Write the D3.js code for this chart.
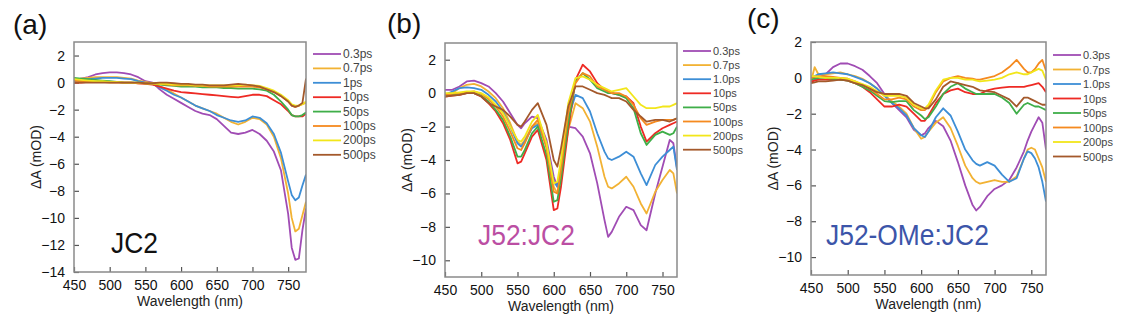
<!DOCTYPE html>
<html>
<head>
<meta charset="utf-8">
<script src="https://cdn.jsdelivr.net/npm/d3@7/dist/d3.min.js"></script>
<style>
  body { margin: 0; background: #fff; }
  svg { display: block; font-family: "Liberation Sans", Arial, sans-serif; }
</style>
</head>
<body>
<div id="chart-area"></div>
<script>
// delay labels and colours, shared by the three panels
var delaysA = ["0.3ps", "0.7ps", "1ps", "10ps", "50ps", "100ps", "200ps", "500ps"];
var delaysBC = ["0.3ps", "0.7ps", "1.0ps", "10ps", "50ps", "100ps", "200ps", "500ps"];
var colors = ["#a04cb4", "#f2b233", "#3d8ed6", "#ee2a24", "#3fae49", "#f58a1f", "#f2e61a", "#a4592b"];

// (a) JC2
var nmA = [450,460,470,480,490,500,510,520,530,540,550,560,570,580,590,600,610,620,630,640,650,660,670,680,690,700,710,720,730,740,750,755,760,765,770,775];
var a03  = [0.2,0.3,0.4,0.6,0.7,0.75,0.75,0.7,0.6,0.4,0.1,0,-0.5,-0.9,-1.2,-1.5,-1.8,-2.1,-2.3,-2.4,-2.7,-3.2,-3.7,-3.8,-3.7,-3.5,-3.8,-4.3,-5.1,-6.5,-9.7,-12.2,-13.1,-13.0,-10.9,-9.3];
var a07  = [0.2,0.3,0.35,0.4,0.4,0.4,0.4,0.35,0.3,0.15,0.05,-0.05,-0.3,-0.5,-0.8,-1.1,-1.4,-1.7,-1.9,-2.1,-2.3,-2.6,-2.9,-3.1,-2.9,-2.6,-2.7,-3.1,-4.0,-5.6,-8.2,-10.0,-11.0,-10.8,-9.8,-8.8];
var a1   = [0.1,0.2,0.25,0.3,0.35,0.35,0.35,0.3,0.25,0.1,0,-0.1,-0.35,-0.6,-0.9,-1.1,-1.4,-1.7,-1.9,-2.1,-2.4,-2.6,-2.8,-2.9,-2.8,-2.5,-2.6,-3.0,-3.8,-5.2,-7.3,-8.3,-8.7,-8.5,-7.6,-6.8];
var a10  = [0,0,0.05,0.05,0.05,0.05,0.05,0,0,-0.05,-0.1,-0.15,-0.3,-0.45,-0.6,-0.7,-0.75,-0.8,-0.85,-0.9,-0.95,-1.0,-1.05,-1.1,-1.0,-0.9,-0.9,-1.0,-1.3,-1.6,-2.1,-2.4,-2.5,-2.5,-2.5,-2.3];
var a50  = [0.35,0.3,0.25,0.2,0.15,0.1,0.05,0,0,0,-0.05,-0.1,-0.15,-0.2,-0.25,-0.3,-0.3,-0.3,-0.35,-0.35,-0.35,-0.4,-0.4,-0.45,-0.45,-0.45,-0.5,-0.6,-0.9,-1.4,-2.0,-2.4,-2.5,-2.5,-2.4,-2.2];
var a100 = [0.15,0.1,0.1,0.05,0.05,0,0,0,0,-0.05,-0.05,-0.1,-0.1,-0.15,-0.2,-0.2,-0.2,-0.25,-0.25,-0.3,-0.3,-0.3,-0.3,-0.3,-0.3,-0.3,-0.35,-0.5,-0.7,-1.0,-1.4,-1.7,-1.8,-1.7,-1.6,-1.5];
var a200 = [0.25,0.2,0.15,0.1,0.1,0.05,0.05,0,0,0,-0.05,-0.05,-0.1,-0.1,-0.15,-0.15,-0.15,-0.2,-0.2,-0.2,-0.2,-0.2,-0.2,-0.2,-0.15,-0.2,-0.25,-0.4,-0.6,-0.9,-1.3,-1.6,-1.7,-1.7,-1.6,-1.4];
var a500 = [0,0,0,0,0,0,0,0,0,0,-0.05,-0.05,0,0,-0.05,-0.1,-0.1,-0.15,-0.15,-0.2,-0.2,-0.2,-0.15,-0.1,-0.15,-0.2,-0.3,-0.5,-0.7,-1.0,-1.4,-1.7,-1.8,-1.7,-1.5,0.3];

// (b) J52:JC2
var nmB = [450,460,470,480,490,500,510,520,530,540,550,555,560,570,578,590,600,605,610,620,630,640,650,660,670,675,680,690,700,710,720,728,740,750,760,765,770];
var b03  = [0.2,0.2,0.4,0.7,0.75,0.6,0.4,0,-0.5,-1.2,-1.9,-2.1,-1.8,-1.4,-1.5,-2.8,-5.0,-5.6,-4.6,-2.0,-2.1,-2.6,-3.6,-5.4,-7.6,-8.6,-8.3,-7.4,-6.8,-7.0,-7.9,-8.2,-6.0,-4.4,-2.8,-3.0,-4.5];
var b07  = [-0.2,0,0.3,0.5,0.55,0.4,0.1,-0.3,-0.9,-1.8,-2.9,-3.1,-2.8,-2.0,-1.8,-3.0,-5.6,-6.0,-4.8,-2.2,-0.6,-0.9,-1.7,-3.2,-5.0,-5.6,-5.7,-5.4,-5.0,-5.6,-6.6,-7.2,-5.9,-5.2,-4.6,-4.8,-6.0];
var b1   = [-0.1,0.1,0.3,0.35,0.3,0.2,-0.1,-0.5,-1.1,-2.0,-3.0,-3.2,-2.9,-2.1,-1.9,-3.1,-5.3,-5.6,-4.4,-1.5,-0.1,-0.3,-1.1,-2.4,-3.5,-3.9,-4.0,-3.8,-3.5,-3.8,-4.8,-5.5,-4.3,-3.8,-3.4,-3.2,-4.6];
var b10  = [-0.2,-0.15,-0.1,0,0,-0.2,-0.6,-1.1,-1.8,-2.8,-4.2,-4.1,-3.6,-2.6,-2.2,-4.0,-7.0,-6.9,-5.6,-2.2,0.8,1.7,1.3,0.6,0.2,0.1,0,-0.1,-0.2,-0.6,-2.0,-2.9,-2.4,-2.1,-1.9,-1.8,-1.7];
var b50  = [-0.2,-0.1,-0.05,0,0,-0.15,-0.5,-1.0,-1.6,-2.6,-3.8,-3.8,-3.4,-2.4,-2.0,-3.7,-6.5,-6.4,-5.1,-1.8,0.7,1.2,0.8,0.3,0.1,0,0,-0.1,-0.3,-0.9,-2.4,-3.1,-2.5,-2.3,-2.5,-2.4,-2.0];
var b100 = [-0.1,-0.05,0,0.05,0.1,-0.05,-0.35,-0.8,-1.4,-2.3,-3.3,-3.4,-3.0,-2.0,-1.6,-3.3,-5.9,-6.0,-4.6,-1.2,0.6,1.2,1.0,0.4,0.2,0.1,0,0,-0.2,-0.7,-1.5,-1.9,-1.7,-1.6,-1.6,-1.6,-1.5];
var b200 = [0,0,0.05,0.1,0.1,0,-0.25,-0.7,-1.2,-2.0,-2.8,-2.9,-2.6,-1.7,-1.3,-3.0,-5.4,-5.3,-4.0,-0.6,0.9,1.0,0.8,0.5,0.3,0.2,0.1,0.2,0.3,-0.2,-0.7,-0.9,-0.9,-0.8,-0.8,-0.7,-0.6];
var b500 = [-0.2,-0.15,-0.1,0,0,-0.2,-0.6,-0.8,-1.0,-1.4,-1.9,-2.0,-1.7,-1.0,-0.6,-1.9,-4.0,-4.4,-3.3,-0.8,0.4,0.4,0.2,0,-0.1,-0.2,-0.3,-0.3,-0.5,-1.0,-1.4,-1.7,-1.6,-1.6,-1.7,-1.6,-1.5];

// (c) J52-OMe:JC2
var nmC = [450,455,460,470,480,490,500,510,520,530,540,550,560,570,580,590,600,605,610,620,630,640,650,660,670,675,680,690,700,710,720,730,740,745,750,755,760,765,770];
var c03  = [-0.3,-0.1,0,0.2,0.6,0.8,0.8,0.65,0.45,0.1,-0.3,-0.9,-1.4,-1.8,-2.2,-2.9,-3.2,-3.1,-2.8,-2.4,-2.7,-3.5,-4.7,-6.0,-7.1,-7.4,-7.2,-6.6,-6.2,-6.0,-5.7,-5.0,-4.1,-3.5,-3.0,-2.6,-2.2,-2.5,-4.0];
var c07  = [-0.2,0.6,0.2,0.2,0.25,0.3,0.2,0.1,-0.05,-0.3,-0.6,-1.0,-1.3,-1.6,-2.0,-2.8,-3.4,-3.3,-3.0,-2.5,-2.2,-2.8,-3.8,-4.9,-5.6,-5.8,-5.9,-5.8,-5.7,-5.8,-5.8,-5.5,-4.5,-4.0,-3.9,-4.0,-4.5,-5.0,-5.8];
var c1   = [0,0.1,0.2,0.25,0.3,0.25,0.2,0.05,-0.1,-0.3,-0.6,-1.0,-1.4,-1.7,-2.1,-2.8,-3.2,-3.3,-3.0,-2.2,-1.7,-2.1,-3.0,-4.0,-4.6,-4.8,-4.9,-4.7,-4.9,-5.4,-5.8,-5.6,-4.5,-4.1,-4.2,-4.5,-5.0,-5.8,-6.9];
var c10  = [-0.2,-0.15,-0.1,-0.1,-0.1,-0.1,-0.15,-0.3,-0.5,-0.8,-1.2,-1.6,-1.6,-1.5,-1.6,-2.0,-2.4,-2.4,-2.1,-1.4,-0.9,-0.7,-0.6,-0.8,-0.9,-0.9,-0.9,-0.7,-0.6,-0.55,-0.5,-0.5,-0.5,-0.45,-0.4,-0.35,-0.3,-0.5,-0.8];
var c50  = [-0.1,-0.05,0,0,-0.05,-0.1,-0.15,-0.3,-0.5,-0.7,-1.0,-1.3,-1.35,-1.3,-1.3,-1.8,-2.1,-2.3,-2.2,-1.6,-0.9,-0.5,-0.3,-0.6,-0.8,-0.9,-0.9,-0.9,-0.9,-1.1,-1.4,-2.0,-1.5,-1.4,-1.5,-1.6,-1.6,-1.7,-1.8];
var c100 = [0,0.05,0.1,0.1,0.05,0,-0.05,-0.2,-0.4,-0.6,-0.9,-1.2,-1.2,-1.1,-1.2,-1.6,-1.8,-1.8,-1.6,-0.8,-0.2,0,0.1,0,-0.05,-0.1,-0.1,0,0.1,0.3,0.6,1.0,0.5,0.3,0.3,0.5,0.8,1.0,0.4];
var c200 = [0.1,0.1,0.05,0,0,0,-0.05,-0.2,-0.35,-0.5,-0.75,-1.0,-1.0,-1.0,-1.1,-1.5,-1.7,-1.7,-1.5,-0.7,-0.1,0,0,-0.1,-0.1,-0.15,-0.2,-0.15,-0.1,0,0.2,0.3,0.2,0.2,0.3,0.4,0.5,0.4,-0.1];
var c500 = [-0.3,-0.25,-0.2,-0.2,-0.15,-0.1,-0.15,-0.3,-0.4,-0.6,-0.8,-0.9,-0.9,-0.9,-1.0,-1.4,-1.6,-1.7,-1.7,-1.2,-0.5,-0.2,-0.3,-0.4,-0.5,-0.6,-0.7,-0.75,-0.8,-1.0,-1.2,-1.6,-1.1,-1.1,-1.2,-1.3,-1.4,-1.5,-1.5];

var xTicks = [450, 500, 550, 600, 650, 700, 750];

var panels = [
  { id: "a", tag: "(a)", tagX: 13, tagY: 34, left: 74, top: 42, w: 232, h: 230,
    x: [450, 775], y: [-14, 3], yTicks: d3.range(-14, 3, 2),
    nm: nmA, series: [a03, a07, a1, a10, a50, a100, a200, a500], names: delaysA,
    title: "JC2", titleColor: "#111", titleX: 111, titleY: 253,
    legX: 313, legY: 54, legStep: 14.4, legFont: 12 },
  { id: "b", tag: "(b)", tagX: 387, tagY: 33, left: 445, top: 43, w: 232, h: 234,
    x: [450, 770], y: [-11, 3], yTicks: d3.range(-10, 3, 2),
    nm: nmB, series: [b03, b07, b1, b10, b50, b100, b200, b500], names: delaysBC,
    title: "J52:JC2", titleColor: "#bb4ea3", titleX: 478, titleY: 245,
    legX: 683, legY: 51, legStep: 14.1, legFont: 11 },
  { id: "c", tag: "(c)", tagX: 747, tagY: 28, left: 811, top: 42, w: 235, h: 233,
    x: [450, 770], y: [-11, 2], yTicks: d3.range(-10, 3, 2),
    nm: nmC, series: [c03, c07, c1, c10, c50, c100, c200, c500], names: delaysBC,
    title: "J52-OMe:JC2", titleColor: "#3c55a9", titleX: 826, titleY: 245,
    legX: 1053, legY: 55, legStep: 14.5, legFont: 11 }
];

var svg = d3.select("#chart-area").append("svg")
    .attr("width", 1123)
    .attr("height", 321);

panels.forEach(function(p) {

  var x = d3.scaleLinear().domain(p.x).range([p.left, p.left + p.w]);
  var y = d3.scaleLinear().domain(p.y).range([p.top + p.h, p.top]);

  var g = svg.append("g").attr("class", "panel-" + p.id);

  g.append("clipPath").attr("id", "clip-" + p.id)
    .append("rect")
      .attr("x", p.left).attr("y", p.top)
      .attr("width", p.w).attr("height", p.h);

  // axes, ticks point inward
  g.append("g")
      .attr("transform", "translate(0," + (p.top + p.h) + ")")
      .call(d3.axisBottom(x).tickValues(xTicks).tickSizeInner(-5).tickSizeOuter(0).tickPadding(8))
      .call(function(s) {
        s.select(".domain").remove();
        s.selectAll("line").attr("stroke", "#555").attr("stroke-width", 1.2);
        s.selectAll("text").attr("font-size", "14px").attr("fill", "#111").attr("font-family", null);
      });

  g.append("g")
      .attr("transform", "translate(" + p.left + ",0)")
      .call(d3.axisLeft(y).tickValues(p.yTicks).tickSizeInner(-5).tickSizeOuter(0).tickPadding(9))
      .call(function(s) {
        s.select(".domain").remove();
        s.selectAll("line").attr("stroke", "#555").attr("stroke-width", 1.2);
        s.selectAll("text").attr("font-size", "14px").attr("fill", "#111").attr("font-family", null);
      });

  var line = d3.line()
      .x(function(d) { return x(d[0]); })
      .y(function(d) { return y(d[1]); });

  g.append("g").attr("clip-path", "url(#clip-" + p.id + ")")
    .selectAll("path")
    .data(p.series)
    .enter().append("path")
      .attr("fill", "none")
      .attr("stroke", function(d, i) { return colors[i]; })
      .attr("stroke-width", 1.8)
      .attr("stroke-linejoin", "round")
      .attr("d", function(d) { return line(d.map(function(v, i) { return [p.nm[i], v]; })); });

  g.append("rect")
      .attr("x", p.left).attr("y", p.top)
      .attr("width", p.w).attr("height", p.h)
      .attr("fill", "none")
      .attr("stroke", "#8a8a8a")
      .attr("stroke-width", 1.5);

  g.append("text")
      .attr("x", p.left + p.w / 2)
      .attr("y", p.top + p.h + 34)
      .attr("text-anchor", "middle")
      .attr("font-size", "14px")
      .attr("fill", "#222")
      .text("Wavelength (nm)");

  g.append("text")
      .attr("transform", "translate(" + (p.left - 33) + "," + (p.top + p.h / 2) + ") rotate(-90)")
      .attr("text-anchor", "middle")
      .attr("font-size", "14px")
      .attr("fill", "#222")
      .text("ΔA (mOD)");

  g.append("text")
      .attr("x", p.tagX)
      .attr("y", p.tagY)
      .attr("font-size", "28px")
      .attr("fill", "#111")
      .text(p.tag);

  g.append("text")
      .attr("transform", "translate(" + p.titleX + "," + p.titleY + ") scale(0.88,1)")
      .attr("font-size", "30px")
      .attr("fill", p.titleColor)
      .text(p.title);

  p.names.forEach(function(name, i) {
    var row = g.append("g")
        .attr("transform", "translate(" + p.legX + "," + (p.legY + i * p.legStep) + ")");
    row.append("line")
        .attr("x1", 0).attr("x2", 28)
        .attr("stroke", colors[i])
        .attr("stroke-width", 1.8);
    row.append("text")
        .attr("x", 30)
        .attr("y", 4)
        .attr("font-size", p.legFont + "px")
        .attr("fill", "#444")
        .text(name);
  });

});
</script>
</body>
</html>
